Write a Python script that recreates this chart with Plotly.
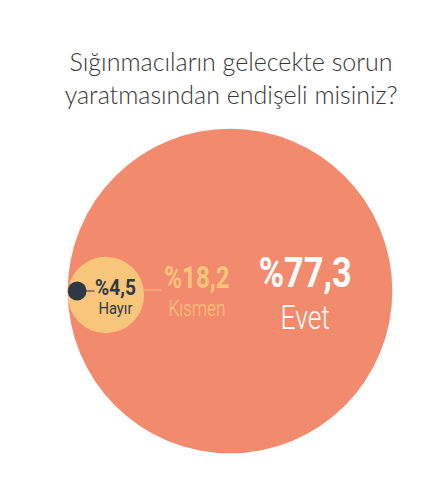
import json
import plotly.graph_objects as go

# --- Data ---
labels = ["Evet", "Kısmen", "Hayır"]
values = [77.3, 18.2, 4.5]
value_labels = ["%77,3", "%18,2", "%4,5"]

TITLE = "Sığınmacıların gelecekte sorun<br>yaratmasından endişeli misiniz?"

# --- Styling / layout ---
W, H = 424, 495
COLORS = ["#F28A6E", "#F8C67A", "#2D3945"]
PX_PER_POINT = 2.1          # circle radius (px) per percentage point
CX, CY = 230, 291           # centre of the big circle
FONT = "Roboto, Open Sans, sans-serif"

radii = [v * PX_PER_POINT for v in values]
R = radii[0]
# circles are stacked against the left edge of the big one
centers_x = [CX] + [CX - R + r for r in radii[1:]]
centers_y = [CY, CY + 4, CY]

fig = go.Figure()

for i in range(len(values)):
    fig.add_trace(go.Scatter(
        x=[centers_x[i]], y=[centers_y[i]],
        mode="markers",
        marker=dict(size=2 * radii[i], color=COLORS[i], line=dict(width=0)),
        hoverinfo="text", hovertext=f"{labels[i]}: {value_labels[i]}",
        showlegend=False))

# connector ticks
dark_edge = centers_x[2] + radii[2]
fig.add_trace(go.Scatter(x=[dark_edge - 1, dark_edge + 8], y=[CY, CY], mode="lines",
                         line=dict(color=COLORS[2], width=1), hoverinfo="skip", showlegend=False))
yel_edge = centers_x[1] + radii[1]
fig.add_trace(go.Scatter(x=[yel_edge, yel_edge + 17], y=[CY - 1, CY - 1], mode="lines",
                         line=dict(color=COLORS[1], width=1), hoverinfo="skip", showlegend=False))

# one two-line label per circle:
# (x, y, line pitch font, value size, name size, name weight, colour, horizontal squeeze)
label_specs = [
    (305, 292, 32, 43, 33, 300, "white", 0.80),
    (197, 290, 21.5, 31, 22, 300, COLORS[1], 0.78),
    (115, 297, 15, 22, 17, 400, COLORS[2], 0.87),
]
annotations = []
for i, (x, y, base, vs, ns, nw, c, _) in enumerate(label_specs):
    txt = (f"<span style='font-size:{vs}px;font-weight:700'>{value_labels[i]}</span><br>"
           f"<span style='font-size:{ns}px;font-weight:{nw}'>{labels[i]}</span>")
    annotations.append(dict(x=x, y=y, text=txt, xref="x", yref="y", showarrow=False,
                            xanchor="center", yanchor="middle", align="center",
                            font=dict(family=FONT, size=base, color=c)))
squeeze = [spec[-1] for spec in label_specs]

fig.update_layout(
    width=W, height=H,
    margin=dict(l=0, r=0, t=0, b=0),
    paper_bgcolor="white", plot_bgcolor="white",
    title=dict(text=TITLE, x=0.545, xanchor="center", y=1 - 71 / H, yanchor="top",
               font=dict(family="Lato, Open Sans, sans-serif", size=25, color="#363636", weight=300)),
    annotations=annotations,
    xaxis=dict(range=[0, W], visible=False, fixedrange=True),
    yaxis=dict(range=[H, 0], visible=False, fixedrange=True),
)

# no page margin; condense the label glyphs horizontally (no condensed font installed)
post = """
document.body.style.margin = '0';
var SQ = %s;
function squeezeLabels() {
  document.querySelectorAll('g.annotation').forEach(function (g) {
    var i = +g.getAttribute('data-index');
    var t = g.querySelector('text.annotation-text');
    if (!t || SQ[i] === undefined) return;
    t.style.transformBox = 'fill-box';
    t.style.transformOrigin = 'center';
    t.style.transform = 'scaleX(' + SQ[i] + ')';
  });
}
squeezeLabels();
var gd = document.getElementById('{plot_id}');
if (gd && gd.on) gd.on('plotly_afterplot', squeezeLabels);
""" % json.dumps(squeeze)

fig.write_html("out.html", post_script=post, config={"displayModeBar": False})
